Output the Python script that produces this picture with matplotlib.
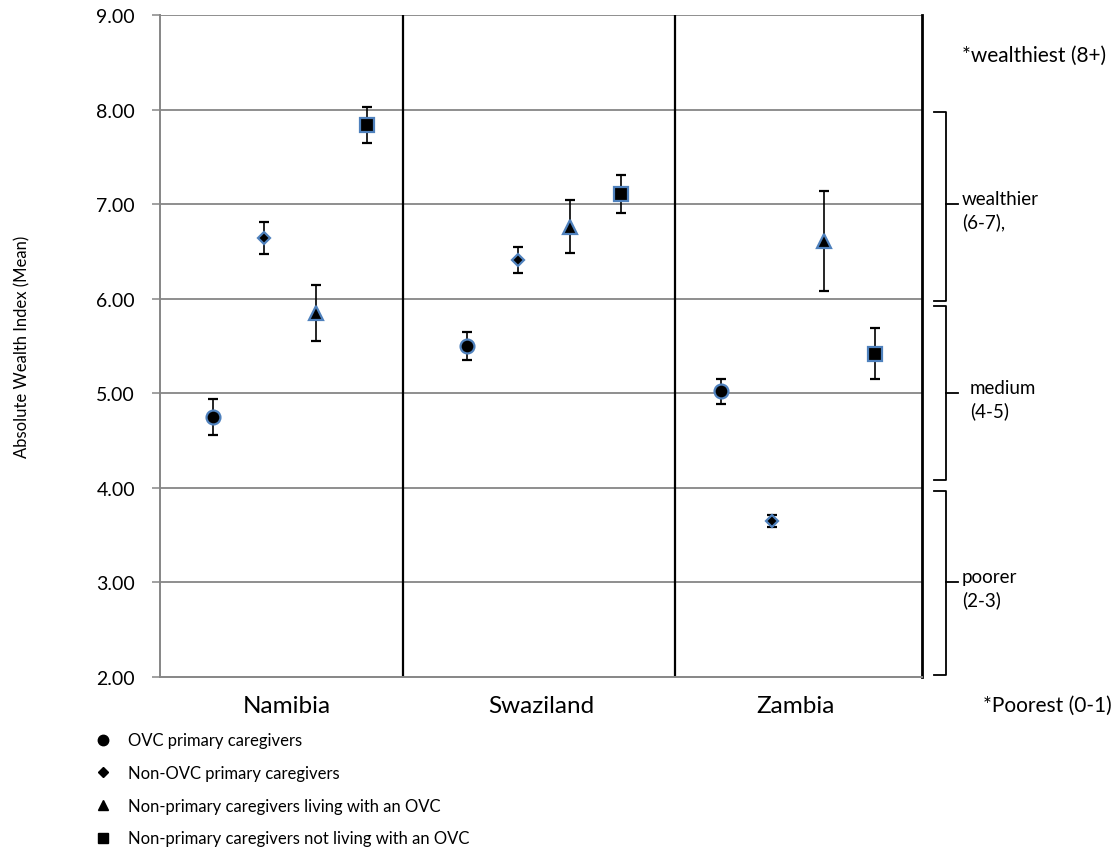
"""Absolute wealth index by caregiver group for Namibia, Swaziland and Zambia."""

import matplotlib
matplotlib.use("Agg")
import matplotlib.pyplot as plt
import matplotlib.transforms as mtransforms
from matplotlib.lines import Line2D

COUNTRIES = ["Namibia", "Swaziland", "Zambia"]
GROUPS = [
    "OVC primary caregivers",
    "Non-OVC primary caregivers",
    "Non-primary caregivers living with an OVC",
    "Non-primary caregivers not living with an OVC",
]

# mean wealth index and error half-width per country
ovc_mean = [4.75, 5.50, 5.02]
ovc_err = [0.19, 0.15, 0.13]
non_ovc_mean = [6.64, 6.41, 3.65]
non_ovc_err = [0.17, 0.14, 0.06]
living_mean = [5.85, 6.76, 6.61]
living_err = [0.30, 0.28, 0.53]
not_living_mean = [7.84, 7.11, 5.42]
not_living_err = [0.19, 0.20, 0.27]

# wealth bands shown on the right-hand side
BANDS = [("wealthier\n(6-7),", 5.98, 7.97, 7.0),
         ("medium\n(4-5)", 4.08, 5.92, 5.0),
         ("poorer\n(2-3)", 2.02, 3.97, 3.0)]

MEANS = [ovc_mean, non_ovc_mean, living_mean, not_living_mean]
ERRS = [ovc_err, non_ovc_err, living_err, not_living_err]
MARKERS = ["o", "D", "^", "s"]
SIZES = [10, 6.5, 10, 10]
OFFSETS = [-0.29, -0.09, 0.113, 0.314]
EDGE = "#4f81bd"
GRID = "#868686"

plt.rcParams["font.family"] = ["Lato", "DejaVu Sans"]

fig = plt.figure(figsize=(11.16, 8.53), dpi=100)
ax = fig.add_axes([0.1434, 0.2052, 0.6828, 0.776])

for mean, err, marker, size, off in zip(MEANS, ERRS, MARKERS, SIZES, OFFSETS):
    xs = [i + off for i in range(len(COUNTRIES))]
    ax.errorbar(xs, mean, yerr=err, fmt=marker, color="black", ms=size,
                mfc="black", mec=EDGE, mew=1.6, ecolor="black", elinewidth=1.2,
                capsize=3.3, capthick=1.2, zorder=3)

ax.set_xlim(-0.5, 2.5)
ax.set_ylim(2, 9)
ax.set_yticks(range(2, 10))
ax.set_yticklabels([f"{v:.2f}" for v in range(2, 10)])
ax.set_xticks(range(len(COUNTRIES)))
ax.set_xticklabels(COUNTRIES)
ax.tick_params(axis="y", length=6, width=1.1, color=GRID, pad=12, labelsize=14)
ax.tick_params(axis="x", length=0, pad=13, labelsize=17.5)

for y in range(3, 10):
    ax.axhline(y, color=GRID, lw=1.3, zorder=1)
for s in ("left", "bottom"):
    ax.spines[s].set_color(GRID)
    ax.spines[s].set_linewidth(1.4)
ax.spines["top"].set_visible(False)
ax.spines["right"].set_color("black")
ax.spines["right"].set_linewidth(2)

# country dividers
for xd in (0.457, 1.528):
    ax.axvline(xd, color="black", lw=1.6, zorder=2)

ax.set_ylabel("Absolute Wealth Index (Mean)", fontsize=12)
ax.yaxis.set_label_coords(-0.170, 0.5)

# band brackets to the right of the plot
trans = mtransforms.blended_transform_factory(ax.transAxes, ax.transData)
for label, lo, hi, mid in BANDS:
    ax.plot([1.0157, 1.0315, 1.0315, 1.0157], [hi, hi, lo, lo], color="black",
            lw=1.3, transform=trans, clip_on=False)
    ax.plot([1.0315, 1.047], [mid, mid], color="black", lw=1.3,
            transform=trans, clip_on=False)
    xt = 1.0625 if label.startswith("medium") else 1.052
    ax.text(xt, mid - 0.06, label, transform=trans, ha="left", va="center",
            fontsize=13.5, linespacing=1.35)

ax.text(1.052, 8.58, "*wealthiest (8+)", transform=trans, ha="left",
        va="center", fontsize=15)
ax.text(1.08, 1.70, "*Poorest (0-1)", transform=trans, ha="left",
        va="center", fontsize=15)

handles = [Line2D([], [], ls="none", marker=m, ms=s * 0.75, color="black",
                  mfc="black", mec="black") for m, s in zip(MARKERS, SIZES)]
fig.legend(handles, GROUPS, loc="upper left", bbox_to_anchor=(0.079, 0.148),
           frameon=False, fontsize=12, handlelength=1.0, handletextpad=1.0,
           labelspacing=1.0, borderaxespad=0)

fig.savefig("out.png", dpi=100)
